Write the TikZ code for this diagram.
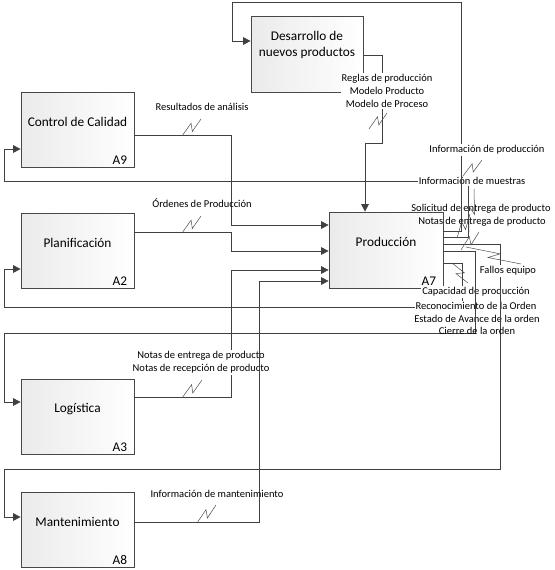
\documentclass[tikz,border=0pt]{standalone}
\usepackage{fontspec}
\setmainfont{Carlito}
\usetikzlibrary{arrows.meta,calc}
\newcommand{\squig}[2]{\draw[sq] (#1) -- ($(#1)!0.6!(#2)!3.5pt!90:(#2)$) -- ($(#1)!0.42!(#2)!3.5pt!-90:(#2)$) -- (#2);}
\begin{document}
\begin{tikzpicture}[x=1pt,y=-1pt,
  box/.style={draw=black!72, line width=0.7pt, left color=black!8, right color=white, minimum width=113pt, minimum height=75pt, inner sep=0pt},
  btxt/.style={font=\fontsize{13.3}{16}\selectfont, align=center, inner sep=0pt},
  alab/.style={font=\fontsize{13.3}{16}\selectfont, inner sep=0pt, anchor=south east},
  lab/.style={font=\fontsize{10.5}{13}\selectfont, align=center, inner xsep=1pt, inner ysep=1.5pt},
  wlab/.style={lab, fill=white},
  conn/.style={draw=black!75, line width=0.75pt},
  arr/.style={conn, -{Triangle[length=7.5pt,width=7.5pt]}},
  sq/.style={draw=black!70, line width=0.5pt}
]
\fill[white] (0,0) rectangle (554,570);
\useasboundingbox (0,0) rectangle (554,570);

% boxes
\node[box, minimum width=112pt, minimum height=76pt] (dev) at (307,54) {};
\node[box] (cc) at (77.5,129.5) {};
\node[box] (pl) at (77.5,250.5) {};
\node[box] (lo) at (77.5,417) {};
\node[box] (ma) at (77.5,529.5) {};
\node[box, minimum width=114pt, minimum height=76pt] (pr) at (386,250) {};

\node[btxt] (devt) at ([yshift=9pt]dev.center) {Desarrollo de\\nuevos productos};
\node[btxt] (cct) at ([yshift=7.5pt]cc.center) {Control de Calidad};
\node[btxt] (plt) at ([yshift=7.5pt]pl.center) {Planificación};
\node[btxt] (lot) at ([yshift=7.5pt]lo.center) {Logística};
\node[btxt] (mat) at ([yshift=7.5pt]ma.center) {Mantenimiento};
\node[btxt] (prt) at ([yshift=8pt]pr.center) {Producción};

\node[alab] (cca) at ([xshift=-7pt,yshift=3pt]cc.south east) {A9};
\node[alab] (pla) at ([xshift=-7pt,yshift=3pt]pl.south east) {A2};
\node[alab] (loa) at ([xshift=-7pt,yshift=3pt]lo.south east) {A3};
\node[alab] (maa) at ([xshift=-7pt,yshift=3pt]ma.south east) {A8};
\node[alab] (pra) at ([xshift=-7pt,yshift=3pt]pr.south east) {A7};

% inputs to Produccion
\draw[arr] (cc.east |- 0,135) -| (231,225) -- (pr.west |- 0,225);
\draw[arr] (pl.east |- 0,232) -| (231,251) -- (pr.west |- 0,251);
\draw[arr] (lo.east |- 0,397) -| (231,270) -- (pr.west |- 0,270);
\draw[arr] (dev.east |- 0,55) -| (382,143) -| (pr.north -| 365,0);
\node[wlab] (l3) at (201,362.5) {Notas de entrega de producto\\Notas de recepción de producto};
\draw[arr] (ma.east |- 0,522) -| (259,281) -- (pr.west |- 0,281);

\node[lab] (l1) at (202,107) {Resultados de análisis};
\node[lab] (l2) at (202,203) {Órdenes de Producción};
\node[lab] (l4) at (217,494) {Información de mantenimiento};
\node[wlab] (l5) at (387,91) {Reglas de producción\\Modelo Producto\\Modelo de Proceso};

% feedback from Produccion
\draw[arr] (pr.east |- 0,237) -| (468,181) -| (4,149) -- (cc.west |- 0,149);
\draw[arr] (pr.east |- 0,263) -| (462,307) -| (4,269) -- (pl.west |- 0,269);

\node[wlab] (r2) at (472,181) {Información de muestras};
\node[wlab] (r5) at (476,292) {Capacidad de producción};
\node[wlab] (r6) at (476,306) {Reconocimiento de la Orden};
\node[wlab] (r7) at (477,319) {Estado de Avance de la orden};

\draw[arr] (pr.east |- 0,231) -| (461,2) -| (232,41) -- (dev.west |- 0,41);
\node[wlab] (r1) at (487,150) {Información de producción};

\draw[arr] (pr.east |- 0,244) -| (500,469) -| (4,517) -- (ma.west |- 0,517);
\draw[arr] (pr.east |- 0,251) -| (475,333) -| (4,402) -- (lo.west |- 0,402);

\node[wlab] (r4) at (508,271) {Fallos equipo};
\node[lab] (r3) at (481,209) {Solicitud de entrega de producto};
\node[lab] (r3b) at (482,222) {Notas de entrega de producto};
\node[lab] (r8) at (477,331) {Cierre de la orden};

% squiggles
\squig{182,136}{201,119}
\squig{182,233}{201,216}
\squig{182,398}{202,380}
\squig{197,523}{216,505}
\squig{369,129}{387,113}
\squig{463,176}{482,160}
\squig{469,232}{474,189}
\squig{457,238}{470,214}
\squig{461,250}{479,232}
\squig{466,247}{521,264}
\squig{452,263}{468,283}
\end{tikzpicture}
\end{document}
